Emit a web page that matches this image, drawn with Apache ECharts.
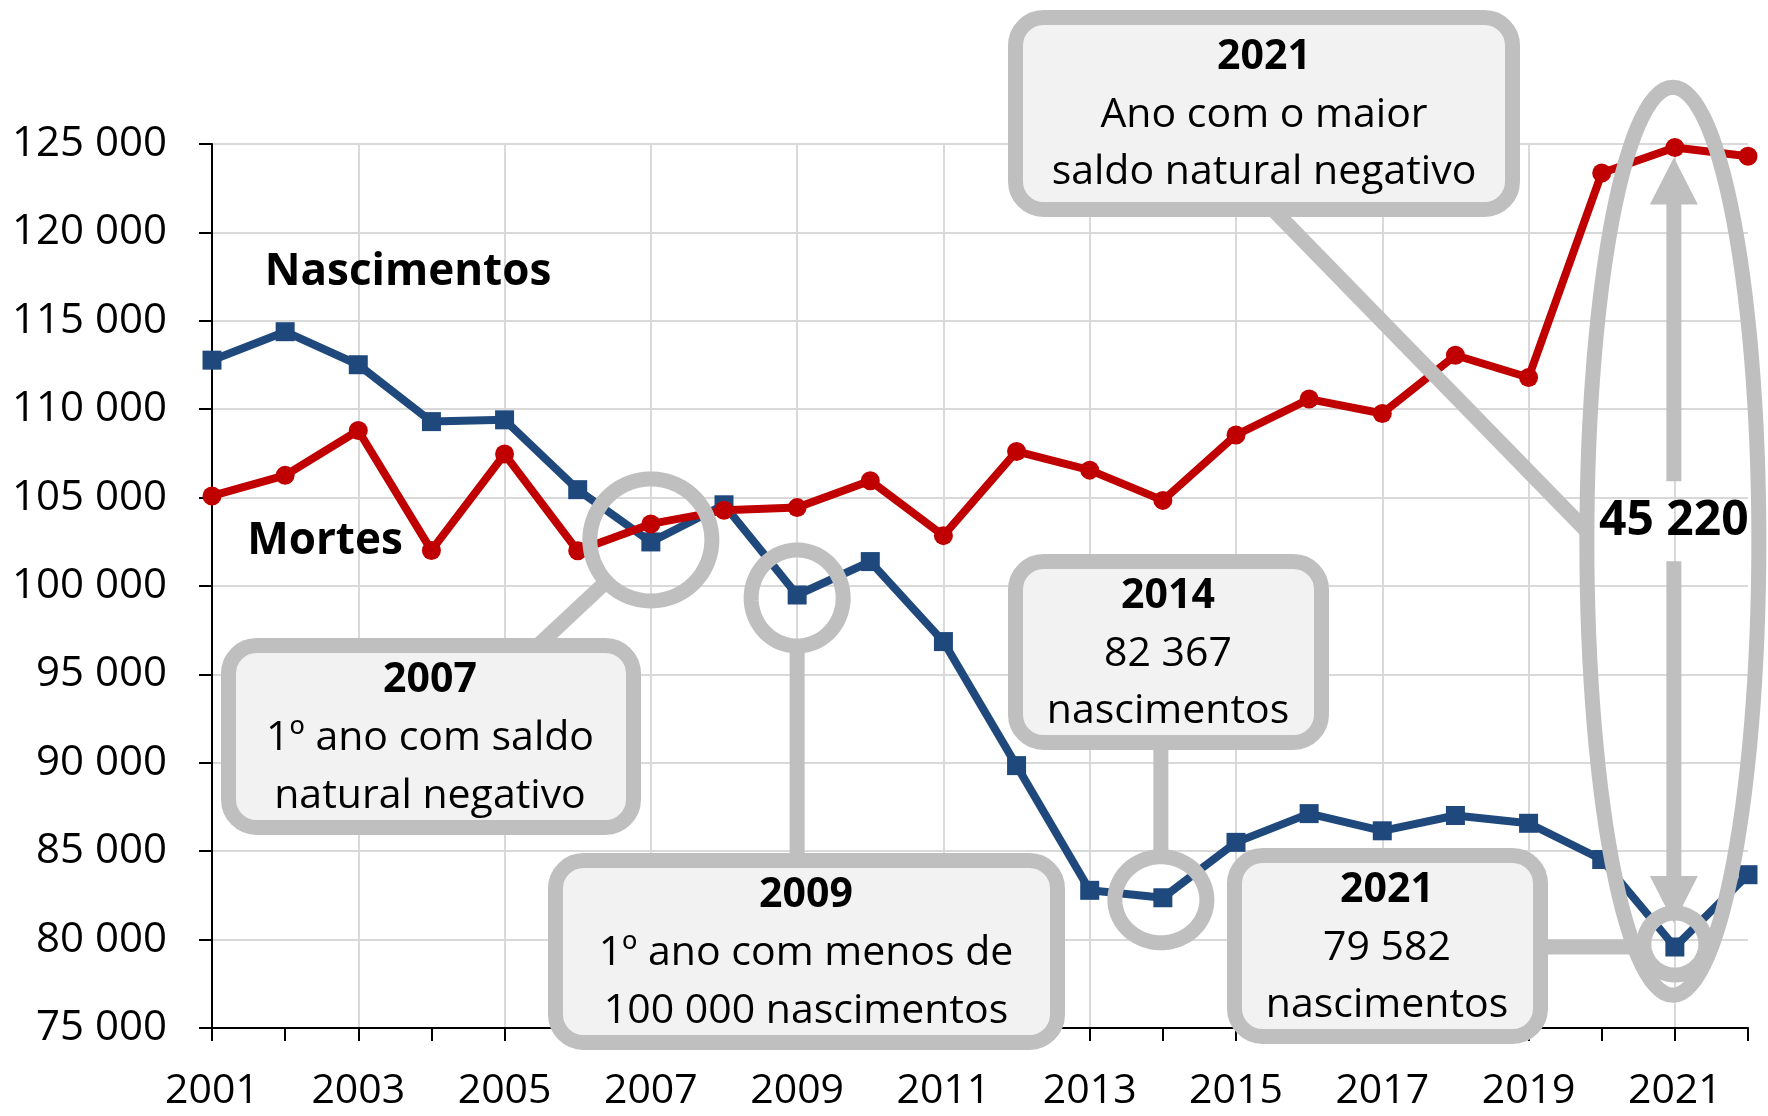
<!DOCTYPE html>
<html>
<head>
<meta charset="utf-8">
<script src="https://cdn.jsdelivr.net/npm/echarts@6/dist/echarts.min.js"></script>
<style>
  html, body { margin: 0; padding: 0; background: #ffffff; }
  #main { width: 1768px; height: 1116px; }
</style>
</head>
<body>
<div id="main"></div>
<script>
// ---------------- DATA ----------------
const years = ['2001','2002','2003','2004','2005','2006','2007','2008','2009','2010','2011',
               '2012','2013','2014','2015','2016','2017','2018','2019','2020','2021','2022'];
const nascimentos = [112774, 114383, 112515, 109298, 109399, 105449, 102492, 104594, 99491, 101381, 96856,
                     89841, 82787, 82367, 85500, 87126, 86154, 87020, 86579, 84530, 79582, 83671];
const mortes = [105092, 106258, 108795, 102012, 107462, 101990, 103512, 104280, 104434, 105954, 102848,
                107612, 106554, 104843, 108539, 110573, 109758, 113051, 111793, 123358, 124802, 124311];
const yTicks = { min: 75000, max: 125000, step: 5000 };
const seriesNames = ['Nascimentos', 'Mortes'];
const gapLabel = '45 220';
const boxTexts = {
  A: ['2021', 'Ano com o maior', 'saldo natural negativo'],
  B: ['2007', '1º ano com saldo', 'natural negativo'],
  C: ['2009', '1º ano com menos de', '100 000 nascimentos'],
  D: ['2014', '82 367', 'nascimentos'],
  E: ['2021', '79 582', 'nascimentos']
};

// ---------------- STYLE / LAYOUT ----------------
const FONT = '"Open Sans", "Noto Sans", sans-serif';
const BLUE = '#1F497D', RED = '#C00000', GRAY = '#BFBFBF', FILL = '#F2F2F2', GRID = '#D9D9D9';
const SW = 15; // annotation stroke width
const boxLayout = {
  A: { x: 1015.5, y: 17.5, w: 497, h: 192, cx: 1264, dy: [47, 105, 162], top: 10 },
  B: { x: 228.5, y: 645.5, w: 405, h: 182, cx: 430, dy: [42, 100, 158], top: 638 },
  C: { x: 555.5, y: 860.5, w: 502, h: 182, cx: 806, dy: [42, 100, 158], top: 853 },
  D: { x: 1015.5, y: 561.5, w: 306, h: 181, cx: 1168, dy: [42, 100, 157], top: 554 },
  E: { x: 1234.5, y: 855.5, w: 306, h: 181, cx: 1387, dy: [42, 100, 157], top: 848 }
};

function fmt(v) { return String(v).replace(/\B(?=(\d{3})+(?!\d))/g, ' '); }

const chart = echarts.init(document.getElementById('main'), null, { renderer: 'canvas' });

chart.setOption({
  animation: false,
  backgroundColor: '#ffffff',
  grid: { left: 212, right: 20, top: 144, bottom: 88 },
  xAxis: {
    type: 'category',
    data: years,
    boundaryGap: false,
    axisLine: { show: true, onZero: false, lineStyle: { color: '#000', width: 2 } },
    axisTick: { show: true, interval: 0, length: 13, lineStyle: { color: '#000', width: 2 } },
    axisLabel: { interval: 1, margin: 42, color: '#000', fontFamily: FONT, fontSize: 41, lineHeight: 42 },
    splitLine: { show: true, interval: function (i) { return i % 2 === 0; }, lineStyle: { color: GRID, width: 2 } }
  },
  yAxis: {
    type: 'value',
    min: yTicks.min, max: yTicks.max, interval: yTicks.step,
    axisLine: { show: true, lineStyle: { color: '#000', width: 2 } },
    axisTick: { show: true, length: 13, lineStyle: { color: '#000', width: 2 } },
    axisLabel: { margin: 45, color: '#000', fontFamily: FONT, fontSize: 42, formatter: fmt },
    splitLine: { show: true, lineStyle: { color: GRID, width: 2 } }
  },
  series: [
    {
      name: seriesNames[0], type: 'line', data: nascimentos,
      symbol: 'rect', symbolSize: 19, showAllSymbol: true,
      lineStyle: { color: BLUE, width: 8 }, itemStyle: { color: BLUE }, z: 3
    },
    {
      name: seriesNames[1], type: 'line', data: mortes,
      symbol: 'circle', symbolSize: 19, showAllSymbol: true,
      lineStyle: { color: RED, width: 8 }, itemStyle: { color: RED }, z: 4
    }
  ]
});

// ---------------- ANNOTATIONS (anchored on data through the axes) ----------------
function px(year, value) {
  return chart.convertToPixel({ xAxisIndex: 0, yAxisIndex: 0 }, [year, value]);
}
const idx = y => years.indexOf(y);

const g = [];
const stroke = { stroke: GRAY, lineWidth: SW, fill: 'none' };

function line(x1, y1, x2, y2) {
  g.push({ type: 'line', z: 100, shape: { x1, y1, x2, y2 }, style: { stroke: GRAY, lineWidth: SW } });
}
function ellipse(cx, cy, rx, ry, z) {
  const pts = [];
  for (let i = 0; i < 120; i++) {
    const a = i / 120 * Math.PI * 2;
    pts.push([cx + rx * Math.cos(a), cy + ry * Math.sin(a)]);
  }
  g.push({ type: 'polygon', z: z || 102, shape: { points: pts }, style: Object.assign({}, stroke) });
}
function box(key) {
  const L = boxLayout[key], T = boxTexts[key];
  g.push({ type: 'rect', z: 101, shape: { x: L.x, y: L.y, width: L.w, height: L.h, r: 28 },
           style: { fill: FILL, stroke: GRAY, lineWidth: SW } });
  T.forEach((t, i) => {
    g.push({ type: 'text', z: 103, x: L.cx, y: L.top + L.dy[i],
      style: { text: t, fill: '#000', fontFamily: FONT, fontSize: 41,
               fontWeight: i === 0 ? 'bold' : 'normal', align: 'center', verticalAlign: 'middle' } });
  });
}

// circle anchors
const p2007 = px('2007', nascimentos[idx('2007')]);
const p2009 = px('2009', nascimentos[idx('2009')]);
const p2014 = px('2014', nascimentos[idx('2014')]);
const pB21 = px('2021', nascimentos[idx('2021')]);
const pM21 = px('2021', mortes[idx('2021')]);

const c2007 = { cx: p2007[0], cy: p2007[1] - 2, r: 61 };
const c2009 = { cx: p2009[0], cy: p2009[1] + 3, rx: 46, ry: 48 };
const c2014 = { cx: p2014[0] - 2, cy: p2014[1] + 2, rx: 46, ry: 43 };
const c2021 = { cx: pB21[0], cy: pB21[1] - 3, r: 31 };
const big = { cx: pB21[0] - 2, cy: (pM21[1] + pB21[1]) / 2 - 6, rx: 86, ry: 454 };

// connectors
{
  const bx = 538, by = boxLayout.B.y;
  const dx = bx - c2007.cx, dy = by - c2007.cy, d = Math.hypot(dx, dy);
  line(bx, by, c2007.cx + dx / d * c2007.r, c2007.cy + dy / d * c2007.r);
}
line(c2009.cx, c2009.cy + c2009.ry, c2009.cx, boxLayout.C.y);
line(c2014.cx, boxLayout.D.y + boxLayout.D.h, c2014.cx, c2014.cy - c2014.ry);
line(boxLayout.E.x + boxLayout.E.w, pB21[1], c2021.cx - c2021.r, pB21[1]);
{
  const yEnd = big.cy - 10;
  const xEnd = big.cx - big.rx * Math.sqrt(1 - Math.pow((yEnd - big.cy) / big.ry, 2));
  line(1273, boxLayout.A.y + boxLayout.A.h, xEnd, yEnd);
}

// boxes
['A', 'B', 'C', 'D', 'E'].forEach(box);

// circles
ellipse(c2007.cx, c2007.cy, c2007.r, c2007.r);
ellipse(c2009.cx, c2009.cy, c2009.rx, c2009.ry);
ellipse(c2014.cx, c2014.cy, c2014.rx, c2014.ry);
ellipse(c2021.cx, c2021.cy, c2021.r, c2021.r);
ellipse(big.cx, big.cy, big.rx, big.ry);

// double arrow between deaths and births in 2021
{
  const ax = pB21[0] - 1;
  const topTip = pM21[1] + 10, botTip = pB21[1] - 24;
  const head = 47, half = 24;
  const labelY = big.cy - 20;
  g.push({ type: 'polygon', z: 104, shape: { points: [[ax, topTip], [ax - half, topTip + head], [ax + half, topTip + head]] }, style: { fill: GRAY } });
  g.push({ type: 'polygon', z: 104, shape: { points: [[ax, botTip], [ax - half, botTip - head], [ax + half, botTip - head]] }, style: { fill: GRAY } });
  g.push({ type: 'line', z: 104, shape: { x1: ax, y1: topTip + head - 1, x2: ax, y2: labelY - 40 }, style: { stroke: GRAY, lineWidth: SW } });
  g.push({ type: 'line', z: 104, shape: { x1: ax, y1: labelY + 40, x2: ax, y2: botTip - head + 1 }, style: { stroke: GRAY, lineWidth: SW } });
  g.push({ type: 'text', z: 105, x: ax, y: labelY,
    style: { text: gapLabel, fill: '#000', fontFamily: FONT, fontSize: 48, fontWeight: 'bold', align: 'center', verticalAlign: 'middle' } });
}

// series labels
g.push({ type: 'text', z: 105, x: 408, y: 272,
  style: { text: seriesNames[0], fill: '#000', fontFamily: FONT, fontSize: 44, fontWeight: 'bold', align: 'center', verticalAlign: 'middle' } });
g.push({ type: 'text', z: 105, x: 325, y: 541,
  style: { text: seriesNames[1], fill: '#000', fontFamily: FONT, fontSize: 44, fontWeight: 'bold', align: 'center', verticalAlign: 'middle' } });

chart.setOption({ graphic: { elements: g } });
</script>
</body>
</html>
